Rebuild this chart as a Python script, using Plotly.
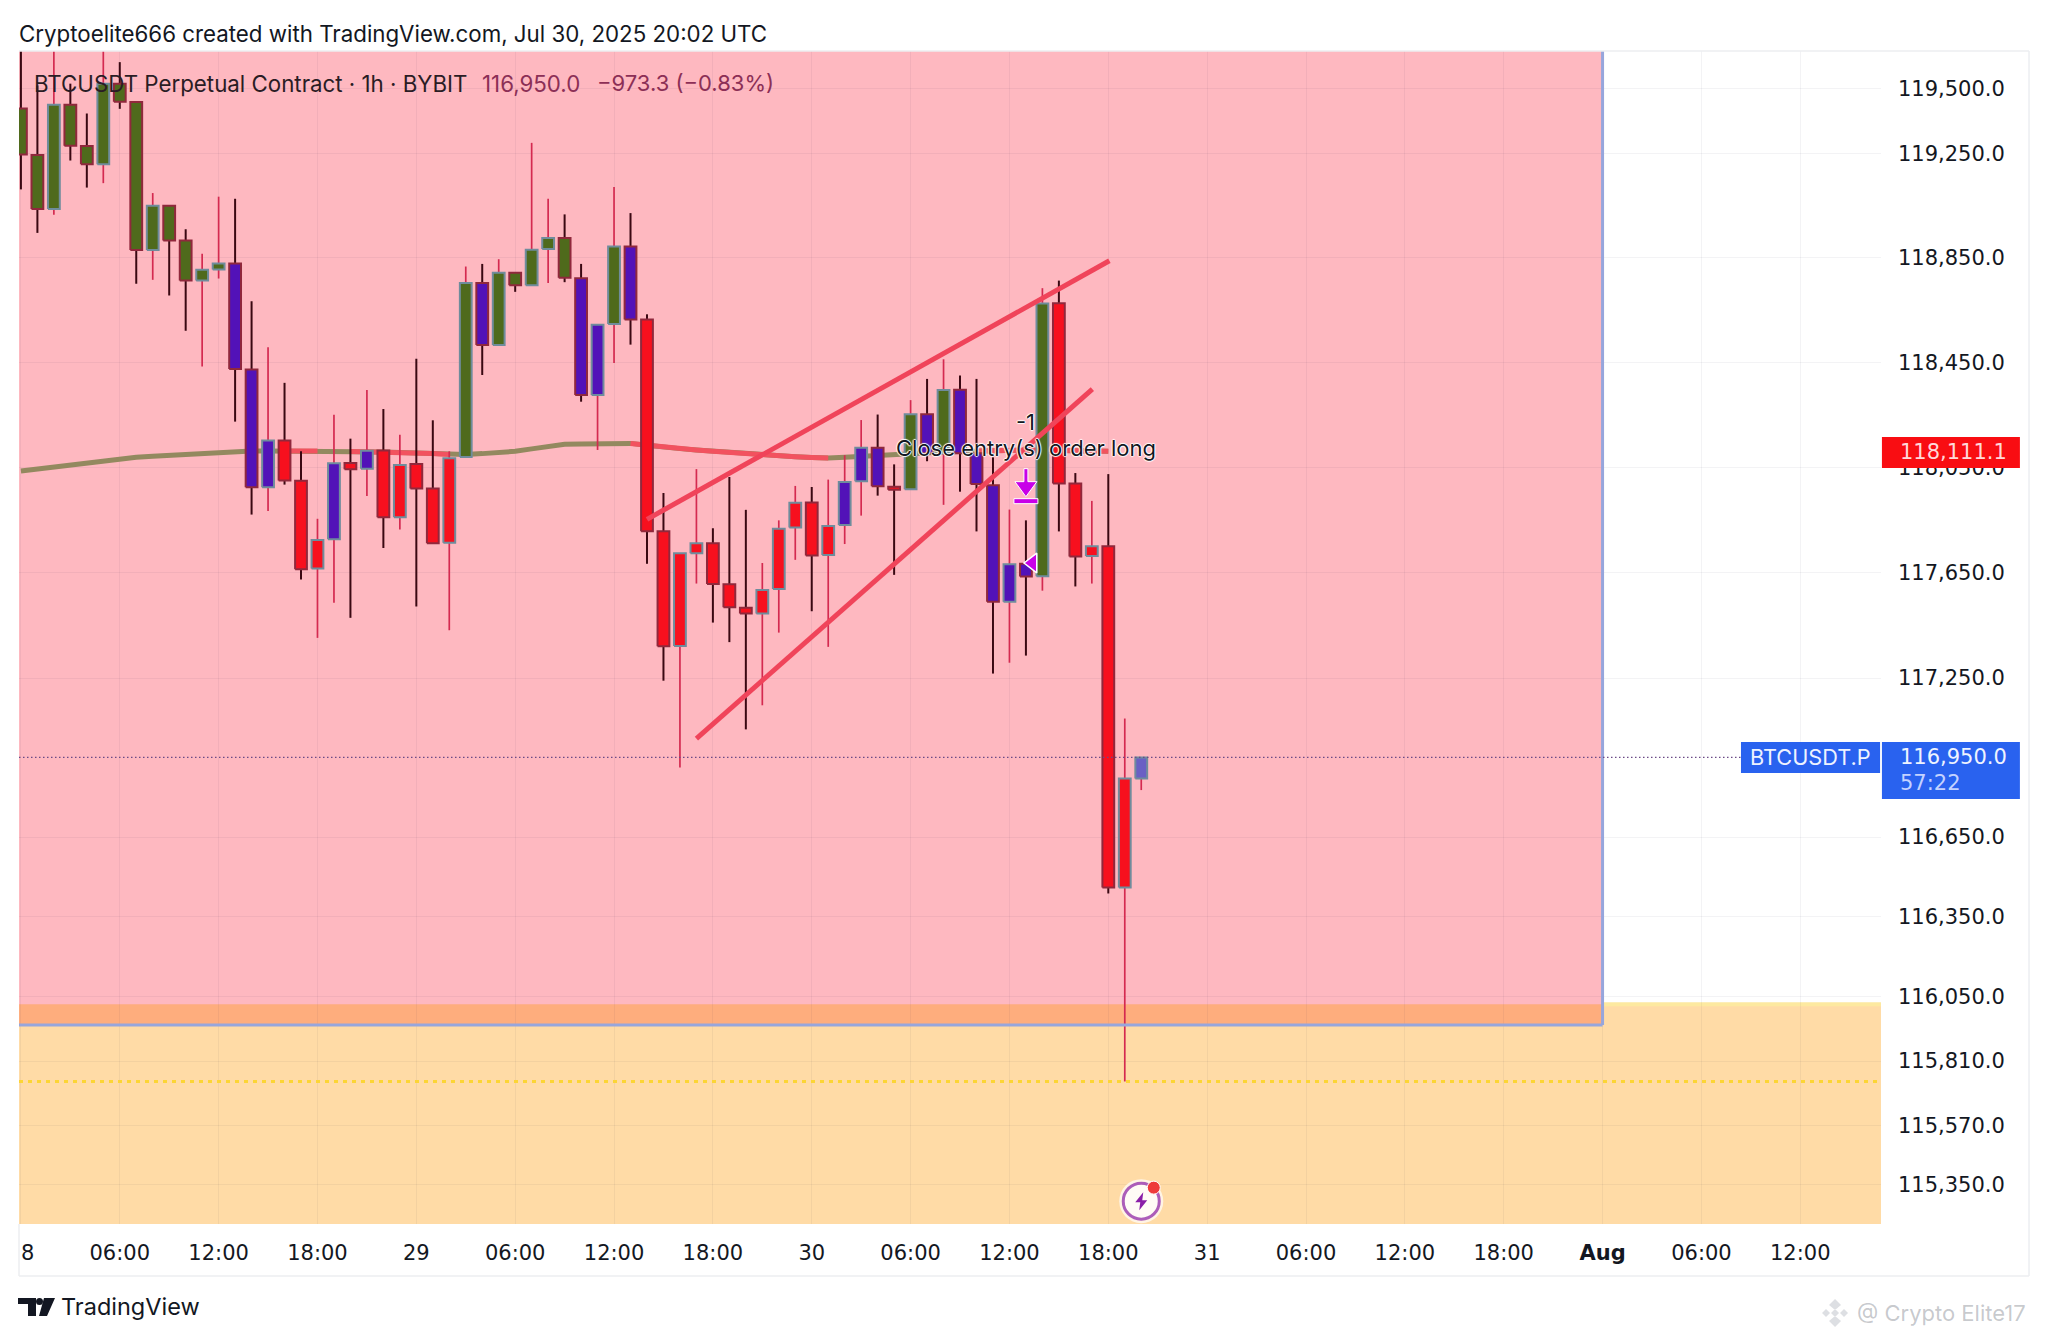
import math
import pandas as pd
import plotly.graph_objects as go

# body top / body bottom / wick high / wick low, one hourly candle each, from Jul 28 00:00
body_top = [119424,119245,119439,119439,119280,119520,119520,119449,119050,119050,118917,118805,118829,118829,118423,118152,118152,117999,117773,118065,118066,118113,118114,118059,118062,117969,118084,118754,118754,118793,118793,118881,118926,118926,118772,118594,118894,118894,118614,117807,117723,117761,117761,117605,117516,117584,117816,117915,117916,117827,117994,118124,118124,117976,118252,118252,118345,118346,118103,117982,117681,117683,118675,118676,117988,117750,117750,116871,116950]
body_bot = [119247,119038,119038,119281,119210,119210,119450,118880,118880,118917,118763,118763,118806,118425,117974,117974,118000,117662,117665,117776,118042,118044,117860,117860,117969,117761,117763,118089,118517,118517,118745,118745,118884,118774,118326,118326,118597,118614,117807,117370,117371,117723,117606,117518,117494,117494,117587,117821,117714,117716,117830,117997,117978,117964,117966,118103,118103,118103,117986,117539,117539,117635,117636,117988,117711,117713,116460,116460,116871]
wick_high = [119700,119513,119700,119520,119405,119700,119603,119449,119099,119050,118960,118866,119085,119077,118684,118508,118372,118111,117854,118250,118159,118345,118272,118174,118464,118229,118111,118817,118827,118845,118793,119292,119077,119017,118827,118594,119122,119022,118634,117952,117723,118043,117818,118013,117888,117686,117848,117979,117975,118003,118096,118230,118251,118061,118306,118387,118462,118400,118387,118088,117889,117848,118734,118763,118028,117922,118024,117097,116950]
wick_low = [119113,118946,119016,119224,119120,119137,119423,118751,118766,118706,118571,118434,118771,118224,117870,117884,117984,117623,117402,117535,117478,117941,117743,117813,117521,117761,117431,118089,118402,118517,118720,118745,118754,118757,118300,118116,118448,118518,117683,117240,116912,117608,117460,117386,117056,117147,117422,117698,117503,117368,117758,117866,117942,117641,117966,118073,117907,117957,117806,117267,117308,117335,117581,117806,117597,117608,116438,115734,116827]
# g olive, p purple, r red, b pale blue-purple
body_kind = "ggggggggggggg" "ppp" "rrr" "p" "r" "p" "rrrrr" "g" "p" "ggggg" "pp" "g" "p" "rrrrrrrrrrrr" "ppp" "r" "g" "p" "g" "ppppp" "g" "rrrrr" "b"
# 1 = grey-blue outline with crimson wick, 0 = dark-red outline with dark wick
grey_kind = [0,0,1,0,0,1,0,0,1,0,0,1,1,0,0,1,0,0,1,1,0,1,0,1,0,0,1,1,0,1,0,1,1,0,0,1,1,0,0,0,1,1,0,0,0,1,1,1,0,1,1,1,0,0,1,0,1,0,0,0,1,0,1,0,0,1,0,1,1]

ma_line = [118036,118044,118052,118060,118068,118076,118084,118088,118092,118096,118100,118104,118108,118111,118112,118112,118112,118112,118112,118111,118110,118109,118108,118106,118104,118102,118099,118099,118102,118106,118111,118120,118129,118138,118139,118139,118140,118141,118134,118126,118121,118116,118111,118106,118101,118096,118093,118090,118087,118085,118088,118092,118096,118099,118103,118106,118108,118110,118112,118114,118115,118115,118115,118114,118112,118111,118111]
ma_red_spans = [(16, 18), (20, 26), (37, 49), (58, 66)]

hours = pd.date_range("2025-07-28 00:00", periods=len(body_top), freq="h")

upper_hours = ["2025-07-29 14:00", "2025-07-30 18:04"]
upper_price = [117852, 118839]
lower_hours = ["2025-07-29 17:00", "2025-07-30 17:02"]
lower_price = [117021, 118348]

price_ticks = [119500,119250,118850,118450,118050,117650,117250,116650,116350,116050,115810,115570,115350]
price_labels = ["119,500.0","119,250.0","118,850.0","118,450.0","118,050.0","117,650.0","117,250.0","116,650.0","116,350.0","116,050.0","115,810.0","115,570.0","115,350.0"]
time_ticks = pd.date_range("2025-07-28 00:00", "2025-08-01 12:00", freq="6h")
time_labels = ["\u20078","06:00","12:00","18:00","29","06:00","12:00","18:00","30","06:00","12:00","18:00","31","06:00","12:00","18:00","<b>Aug</b>","06:00","12:00"]

last_price = 116950
liq_price = 115734
box_floor = 115945
zone_top = 116023
y_low, y_high = 115203, 119646
x_start = "2025-07-27 23:53"
x_end = "2025-08-01 16:54"
box_right = "2025-08-01 00:00"
icon_price = 115288
arrow_price = 117980

FONT = "Inter"
NUM_FONT = "DejaVu Sans"
TEXT = "#131722"
GRID = "rgba(30,40,70,0.055)"
FRAME = "#eceef1"
BLUE = "#2962ef"
body_colors = {"g": "#4f6a1c", "p": "#5212b8", "r": "#f7101e", "b": "#6a60c4"}
y_range = [math.log10(y_low), math.log10(y_high)]

fig = go.Figure()

# moving average sits under the candles, so it stays on the first pair of axes
fig.add_trace(go.Scatter(x=hours[:len(ma_line)], y=ma_line, mode="lines",
                         line=dict(color="#93895f", width=5), hoverinfo="skip"))
for a, b in ma_red_spans:
    fig.add_trace(go.Scatter(x=hours[a:b + 1], y=ma_line[a:b + 1], mode="lines",
                             line=dict(color="#f2525f", width=5), hoverinfo="skip"))


def wick_xy(flag):
    xs, ys = [], []
    for i, t in enumerate(hours):
        if grey_kind[i] == flag:
            xs += [t, t, None, t, t, None]
            ys += [wick_high[i], body_top[i], None, body_bot[i], wick_low[i], None]
    return xs, ys


for flag, col, w in [(0, "#3a0812", 2), (1, "#d42a50", 1.7)]:
    wx, wy = wick_xy(flag)
    fig.add_trace(go.Scatter(x=wx, y=wy, mode="lines", line=dict(color=col, width=w), hoverinfo="skip"))

# one filled box per candle, each body has its own fill and outline
half = pd.Timedelta(minutes=21.5)
for i, t in enumerate(hours):
    fig.add_trace(go.Scatter(
        x=[t - half, t + half, t + half, t - half, t - half],
        y=[body_bot[i], body_bot[i], body_top[i], body_top[i], body_bot[i]],
        mode="lines", fill="toself", fillcolor=body_colors[body_kind[i]],
        line=dict(color="#6f8c9c" if grey_kind[i] else "#90283c", width=2),
        xaxis="x2", yaxis="y2", hoverinfo="skip"))

for xs, ys in [(upper_hours, upper_price), (lower_hours, lower_price)]:
    fig.add_trace(go.Scatter(x=xs, y=ys, mode="lines", line=dict(color="#f0445a", width=5),
                             xaxis="x2", yaxis="y2", hoverinfo="skip"))

fig.add_trace(go.Scatter(x=[hours[61] + pd.Timedelta(minutes=24)], y=[117686], mode="markers", xaxis="x2", yaxis="y2",
                         hoverinfo="skip",
                         marker=dict(symbol="triangle-left", size=17, color="#c800e8", line=dict(color="white", width=1.5))))
fig.add_trace(go.Scatter(x=[hours[68], hours[68]], y=[icon_price, icon_price], mode="markers", xaxis="x2", yaxis="y2",
                         hoverinfo="skip",
                         marker=dict(symbol="circle", size=[44, 36], color="white",
                                     line=dict(color=["white", "#8a1ea8"], width=[0, 3]))))

xaxis_common = dict(range=[x_start, x_end], tickmode="array", tickvals=time_ticks, ticktext=time_labels,
                    tickfont=dict(family=NUM_FONT, size=21, color=TEXT), ticks="", showline=False, zeroline=False,
                    gridcolor=GRID, gridwidth=1, ticklabelstandoff=14, automargin=False, tickangle=0)
yaxis_common = dict(type="log", range=y_range, tickmode="array", tickvals=price_ticks, ticktext=price_labels,
                    side="right", tickfont=dict(family=NUM_FONT, size=21, color=TEXT), ticks="", showline=False,
                    zeroline=False, gridcolor=GRID, gridwidth=1, ticklabelstandoff=16, automargin=False)

shapes = [
    dict(type="rect", xref="x", yref="y", x0=x_start, x1=box_right, y0=box_floor, y1=y_high, layer="below",
         fillcolor="rgba(250,0,30,0.28)", line=dict(width=0)),
    dict(type="rect", xref="x", yref="y", x0=x_start, x1=x_end, y0=y_low, y1=zone_top, layer="below",
         fillcolor="rgba(255,152,0,0.35)", line=dict(width=0)),
    dict(type="line", xref="x", yref="y", x0=box_right, x1=x_end, y0=zone_top, y1=zone_top, layer="below",
         line=dict(color="#fde9a0", width=4)),
    dict(type="line", xref="x", yref="y", x0=box_right, x1=box_right, y0=box_floor, y1=y_high,
         line=dict(color="#97a6dc", width=3)),
    dict(type="line", xref="x", yref="y", x0=x_start, x1=box_right, y0=box_floor, y1=box_floor,
         line=dict(color="#97a6dc", width=3)),
    dict(type="line", xref="x", yref="y", x0=x_start, x1=x_end, y0=liq_price, y1=liq_price,
         line=dict(color="#fcd535", width=3, dash="4px,5px")),
    dict(type="line", xref="paper", yref="y", x0=0, x1=0.9248, y0=last_price, y1=last_price,
         line=dict(color="#6b4a86", width=1.2, dash="1.5px,2.5px")),
    # pane frame
    dict(type="line", xref="paper", yref="paper", x0=0, x1=1.0795, y0=1, y1=1, line=dict(color=FRAME, width=1.5)),
    dict(type="line", xref="paper", yref="paper", x0=0, x1=1.0795, y0=-0.0443, y1=-0.0443, line=dict(color=FRAME, width=1.5)),
    dict(type="line", xref="paper", yref="paper", x0=1.0795, x1=1.0795, y0=-0.0443, y1=1, line=dict(color=FRAME, width=1.5)),
    dict(type="line", xref="paper", yref="paper", x0=0, x1=0, y0=-0.0443, y1=0, line=dict(color=FRAME, width=1.5)),
    # price tags on the right
    dict(type="rect", xref="paper", yref="y", x0=1.0005, x1=1.0746, y0=118047, y1=118165, fillcolor="#f90d12", line=dict(width=0)),
    dict(type="rect", xref="paper", yref="y", x0=1.0005, x1=1.0746, y0=116793, y1=117008, fillcolor=BLUE, line=dict(width=0)),
    dict(type="rect", xref="paper", yref="y", x0=0.9248, x1=0.9995, y0=116891, y1=117008, fillcolor=BLUE, line=dict(width=0)),
    # close-order arrow
    dict(type="path", xref="x", yref="y", xsizemode="pixel", ysizemode="pixel", xanchor=hours[61], yanchor=arrow_price,
         path="M -2 17 L 2 17 L 2 4 L 11 4 L 0 -11 L -11 4 L -2 4 Z M -12 -13 L 12 -13 L 12 -18 L -12 -18 Z",
         fillcolor="#c800e8", line=dict(color="white", width=1)),
    # lightning bolt and alert dot on the marker
    dict(type="path", xref="x", yref="y", xsizemode="pixel", ysizemode="pixel", xanchor=hours[68], yanchor=icon_price,
         path="M 2 9 L -6 -1 L -1 -1 L -2 -9 L 6 1 L 1 1 Z", fillcolor="#8a1ea8", line=dict(width=0)),
    dict(type="circle", xref="x", yref="y", xsizemode="pixel", ysizemode="pixel", xanchor=hours[68], yanchor=icon_price,
         x0=6, x1=19, y0=7, y1=20, fillcolor="#ee3b3b", line=dict(color="white", width=1)),
    # TradingView logo
    dict(type="path", xref="paper", yref="paper", xsizemode="pixel", ysizemode="pixel", xanchor=0, yanchor=-0.0708,
         path="M -1 9 L 17 9 L 17 -9 L 9 -9 L 9 3 L -1 3 Z M 25 9 L 36 9 L 28 -9 L 20 -9 Z", fillcolor=TEXT, line=dict(width=0)),
    dict(type="circle", xref="paper", yref="paper", xsizemode="pixel", ysizemode="pixel", xanchor=0, yanchor=-0.0708,
         x0=17, x1=24, y0=2, y1=9, fillcolor=TEXT, line=dict(width=0)),
    # watermark diamond
    dict(type="path", xref="paper", yref="paper", xsizemode="pixel", ysizemode="pixel", xanchor=0.9753, yanchor=-0.0759,
         path="M 0 4 L 4 0 L 0 -4 L -4 0 Z M 0 14 L 6 8 L 0 3 L -6 8 Z M 0 -14 L 6 -8 L 0 -3 L -6 -8 Z "
              "M 9 4 L 13 0 L 9 -4 L 5 0 Z M -9 4 L -5 0 L -9 -4 L -13 0 Z",
         fillcolor="rgba(170,175,185,0.4)", line=dict(width=0)),
]

halo = "white 1px 0 1px, white -1px 0 1px, white 0 1px 1px, white 0 -1px 1px"


def note(text, x, y, yref="paper", size=22.3, color=TEXT, xanchor="left", family=FONT):
    # annotations on a log axis take log10 of the price
    return dict(text=text, x=x, y=math.log10(y) if yref == "y" else y, xref="paper", yref=yref, showarrow=False,
                xanchor=xanchor, yanchor="middle", font=dict(family=family, size=size, color=color))


annotations = [
    note("Cryptoelite666 created with TradingView.com, Jul 30, 2025 20:02 UTC", -0.001, 1.0150),
    note("BTCUSDT Perpetual Contract · 1h · BYBIT", 0.0072, 0.9725, color="#2a1c24"),
    note("116,950.0", 0.2475, 0.9725, color="#8c2f56"),
    note("−973.3 (−0.83%)", 0.3092, 0.9725, size=22, color="#8c2f56"),
    note("TradingView", 0.0217, -0.0700, size=23.5),
    note("@ Crypto Elite17", 0.986, -0.0759, size=22, color="rgba(120,125,135,0.42)"),
    dict(text="-1", x=hours[61], y=math.log10(118224), xref="x2", yref="y2", showarrow=False,
         font=dict(family=FONT, size=22, color=TEXT, shadow=halo)),
    dict(text="Close entry(s) order long", x=hours[61], y=math.log10(118122), xref="x2", yref="y2", showarrow=False,
         font=dict(family=FONT, size=22, color=TEXT, shadow=halo)),
    note("BTCUSDT.P", 0.9621, last_price, yref="y", size=21.7, color="#eef3ff", xanchor="center"),
    note("116,950.0", 1.0091, last_price, yref="y", size=21, color="#eef3ff", family=NUM_FONT),
    note("57:22", 1.0091, 116854, yref="y", size=21, color="#c4d2ff", family=NUM_FONT),
    note("118,111.1", 1.0091, 118108, yref="y", size=21, color="#ffd8d8", family=NUM_FONT),
]

fig.update_layout(
    template="none", width=2048, height=1341, autosize=False, showlegend=False,
    plot_bgcolor="white", paper_bgcolor="white",
    margin=dict(l=19, r=167, t=51, b=117),
    xaxis=xaxis_common, yaxis=yaxis_common,
    xaxis2=dict(range=[x_start, x_end], overlaying="x", visible=False),
    yaxis2=dict(type="log", range=y_range, overlaying="y", visible=False),
    shapes=shapes, annotations=annotations,
)

fig.write_html("out.html", config={"displayModeBar": False},
               post_script="document.body.style.margin='0';document.body.style.overflow='hidden';")
